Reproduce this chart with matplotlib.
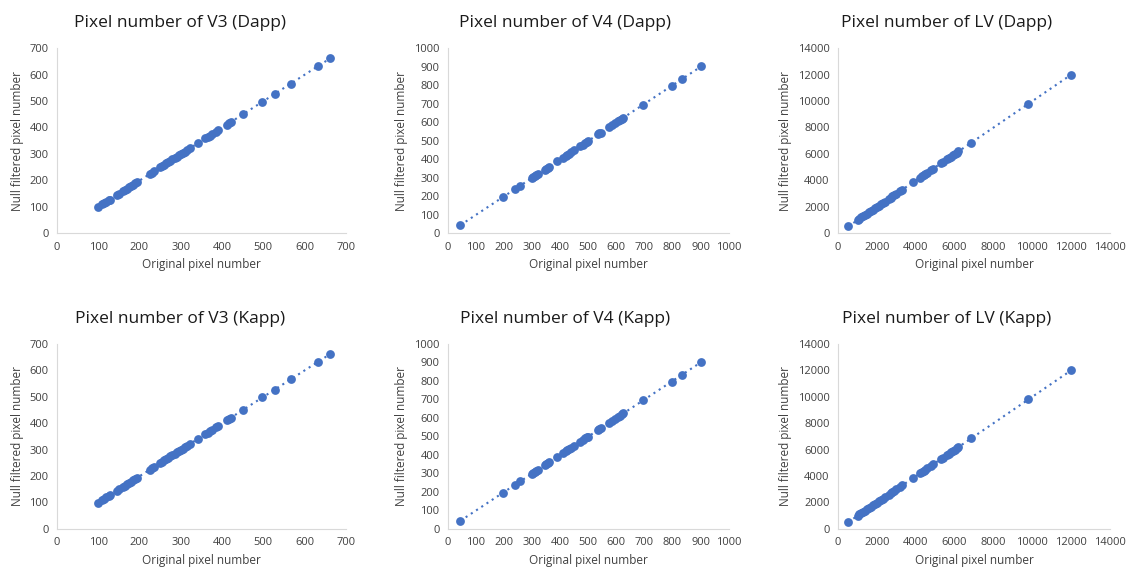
import matplotlib
matplotlib.use("Agg")
import matplotlib.pyplot as plt

plt.rcParams['font.family'] = ['Open Sans', 'DejaVu Sans']

# V3 data (Dapp and Kapp look the same)
v3_orig = [100, 110, 115, 120, 125, 128, 145, 150, 160, 165, 170, 175, 180,
           185, 190, 195, 225, 230, 235, 250, 255, 260, 265, 270, 275, 280,
           285, 290, 295, 300, 305, 310, 315, 322, 342, 360, 365, 370, 375,
           385, 390, 412, 418, 422, 452, 498, 528, 567, 632, 663]
v3_null = [99, 109, 114, 119, 124, 127, 144, 149, 159, 164, 169, 174, 179,
           184, 189, 194, 224, 229, 234, 249, 254, 259, 264, 269, 274, 279,
           284, 289, 294, 299, 304, 309, 314, 321, 341, 359, 364, 369, 374,
           384, 389, 411, 417, 421, 451, 497, 527, 566, 631, 662]

v4_orig = [45, 197, 240, 257, 298, 305, 310, 315, 320, 345, 350, 355, 360,
           390, 410, 420, 425, 430, 440, 450, 470, 480, 490, 495, 500, 535,
           540, 545, 575, 585, 595, 605, 612, 620, 625, 695, 797, 832, 903]
v4_null = [44, 196, 239, 256, 297, 304, 309, 314, 319, 344, 349, 354, 359,
           389, 409, 419, 424, 429, 439, 449, 469, 479, 489, 494, 499, 534,
           539, 544, 574, 584, 594, 604, 611, 619, 624, 694, 796, 831, 902]

lv_orig = [520, 1000, 1100, 1200, 1300, 1400, 1500, 1600, 1700, 1800, 1900,
           2000, 2100, 2200, 2300, 2400, 2600, 2700, 2800, 2900, 3000, 3200,
           3300, 3850, 4200, 4300, 4400, 4500, 4600, 4800, 4900, 5300, 5400,
           5600, 5700, 5800, 5900, 6000, 6100, 6200, 6850, 9800, 12000]
lv_null = [510, 990, 1090, 1190, 1290, 1390, 1490, 1590, 1690, 1790, 1890,
           1990, 2090, 2190, 2290, 2390, 2590, 2690, 2790, 2890, 2990, 3190,
           3290, 3840, 4190, 4290, 4390, 4490, 4590, 4790, 4890, 5290, 5390,
           5590, 5690, 5790, 5890, 5990, 6090, 6190, 6840, 9790, 11990]

titles = ["Pixel number of V3 (Dapp)", "Pixel number of V4 (Dapp)",
          "Pixel number of LV (Dapp)", "Pixel number of V3 (Kapp)",
          "Pixel number of V4 (Kapp)", "Pixel number of LV (Kapp)"]
series = [(v3_orig, v3_null), (v4_orig, v4_null), (lv_orig, lv_null)] * 2
limits = [(700, 100), (1000, 100), (14000, 2000)] * 2

BLUE = '#4472C4'
GRID = '#D9D9D9'
TXT = '#404040'

fig = plt.figure(figsize=(11.28, 5.73), dpi=100)
lefts = [0.0505, 0.397, 0.743]
widths = [0.256, 0.249, 0.241]
title_x = [0.427, 0.418, 0.40]
bottoms = [0.593, 0.077]

for i in range(6):
    row, col = divmod(i, 3)
    ax = fig.add_axes([lefts[col], bottoms[row], widths[col], 0.323])
    xs, ys = series[i]
    top, step = limits[i]
    # linear trendline (dotted) like Excel
    n = len(xs)
    mx = sum(xs) / n
    my = sum(ys) / n
    slope = sum((a - mx) * (b - my) for a, b in zip(xs, ys)) / sum((a - mx) ** 2 for a in xs)
    icpt = my - slope * mx
    x0, x1 = min(xs), max(xs)
    ax.plot([x0, x1], [icpt + slope * x0, icpt + slope * x1], ls=(0, (1, 2)),
            color=BLUE, lw=1.5, zorder=2)
    ax.scatter(xs, ys, s=40, color=BLUE, zorder=3, linewidths=0)
    ax.set_xlim(0, top)
    ax.set_ylim(0, top)
    ticks = list(range(0, top + 1, step))
    ax.set_xticks(ticks)
    ax.set_yticks(ticks)
    ax.tick_params(length=0, labelsize=8, colors=TXT, pad=6)
    for s in ['top', 'right']:
        ax.spines[s].set_visible(False)
    for s in ['left', 'bottom']:
        ax.spines[s].set_color(GRID)
    ax.set_xlabel("Original pixel number", fontsize=8.5, color=TXT, labelpad=4)
    ax.set_ylabel("Null filtered pixel number", fontsize=8.5, color=TXT, labelpad=4)
    ax.set_title(titles[i], fontsize=12.5, color='#1a1a1a', pad=15, x=title_x[col])

fig.savefig("out.png", dpi=100)
